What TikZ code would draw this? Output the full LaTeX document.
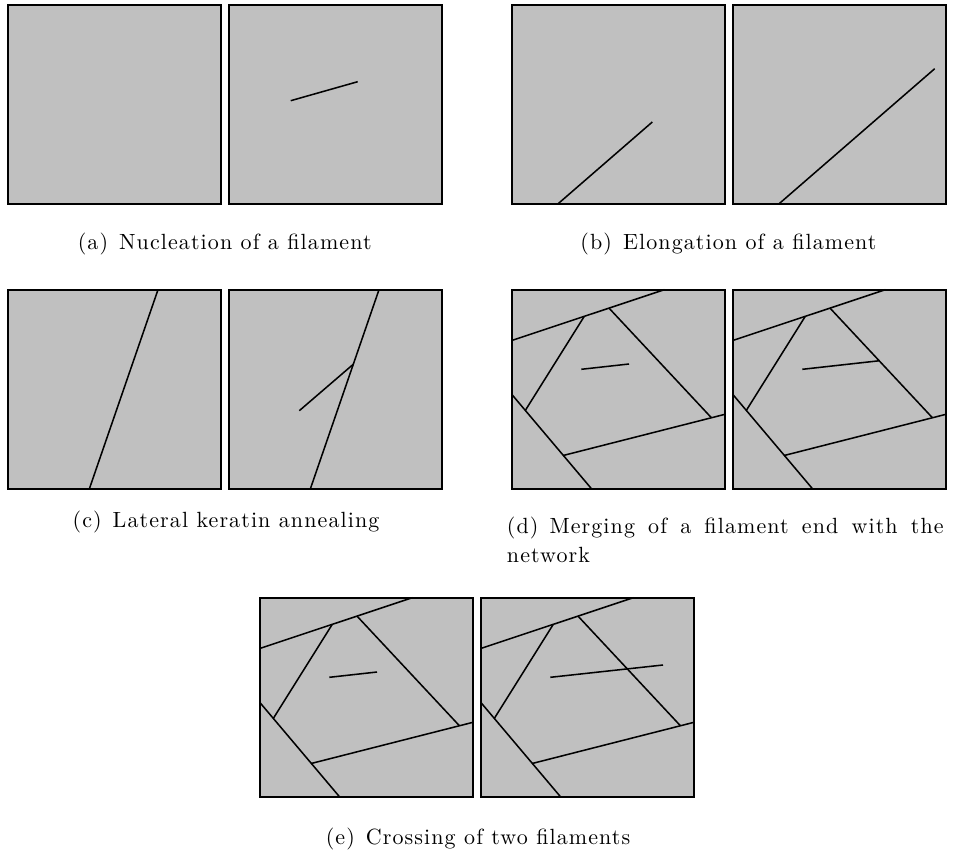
\documentclass[tikz,border=0pt]{standalone}
\usepackage{fontspec}
\setmainfont{lmroman10-regular.otf}[LetterSpace=5]
\usetikzlibrary{calc}
\definecolor{panelgray}{RGB}{192,192,192}
\newcommand\drawnet{%
  \coordinate (t1) at (0,50.6); \coordinate (t2) at (152,0);
  \coordinate (l1) at (72,26.6); \coordinate (l2) at (13.7,119.6);
  \coordinate (ll1) at (0,105.3); \coordinate (ll2) at (79.4,199.3);
  \coordinate (r1) at (96.7,18.4); \coordinate (r2) at (198.4,127.3);
  \coordinate (b1) at (52.7,165.3); \coordinate (b2) at (212.7,124.6);
  \coordinate (lend) at (intersection of l1--l2 and ll1--ll2);
  \coordinate (bstart) at (intersection of b1--b2 and ll1--ll2);
  \coordinate (rend) at (intersection of r1--r2 and b1--b2);
  \draw[fil] (t1) -- (t2);
  \draw[fil] (l1) -- (lend);
  \draw[fil] (r1) -- (rend);
  \draw[fil] (ll1) -- (ll2);
  \draw[fil] (bstart) -- (b2);
  \coordinate (s1) at (69,79.6); \coordinate (s2) at (116.7,74.3);
}
\begin{document}
\begin{tikzpicture}[x=0.75pt,y=-0.75pt,
  panel/.style={draw=black,line width=1.4pt,fill=panelgray},
  fil/.style={line width=1.15pt},
  captext/.style={anchor=base,inner sep=0pt,font=\fontsize{16.5}{22}\selectfont}]
\useasboundingbox (0,0) rectangle (954,850);
% (a)
\begin{scope}[shift={(8.3,4.7)}]
  \draw[panel] (0,0) rectangle (212.7,199.3);
\end{scope}
\begin{scope}[shift={(229.3,4.7)}]
  \draw[panel] (0,0) rectangle (212.7,199.3);
  \coordinate (a1) at (61.4,96); \coordinate (a2) at (128.4,77);
  \draw[fil] (a1) -- (a2);
\end{scope}
\node[captext] (capa) at (224.7,249.5) {(a)\enspace Nucleation of a filament};
% (b)
\begin{scope}[shift={(512.3,4.7)}]
  \draw[panel] (0,0) rectangle (212.7,199.3);
  \coordinate (bb1) at (45.5,199.3); \coordinate (bb2) at (140,117.3);
  \draw[fil] (bb1) -- (bb2);
\end{scope}
\begin{scope}[shift={(733.3,4.7)}]
  \draw[panel] (0,0) rectangle (212.7,199.3);
  \coordinate (bc1) at (45.5,199.3); \coordinate (bc2) at (201.4,64);
  \draw[fil] (bc1) -- (bc2);
\end{scope}
\node[captext] (capb) at (728.5,249.5) {(b)\enspace Elongation of a filament};
% (c)
\begin{scope}[shift={(8.3,289.7)}]
  \draw[panel] (0,0) rectangle (212.7,199.3);
  \coordinate (c1) at (81,199.3); \coordinate (c2) at (149.7,0);
  \draw[fil] (c1) -- (c2);
\end{scope}
\begin{scope}[shift={(229.3,289.7)}]
  \draw[panel] (0,0) rectangle (212.7,199.3);
  \coordinate (cc1) at (81,199.3); \coordinate (cc2) at (149.7,0);
  \coordinate (cb1) at (70,121); \coordinate (cb2) at ($(cc1)!0.626!(cc2)$);
  \draw[fil] (cc1) -- (cc2);
  \draw[fil] (cb1) -- (cb2);
\end{scope}
\node[captext] (capc) at (226,527.5) {(c)\enspace Lateral keratin annealing};
% (d)
\begin{scope}[shift={(512.3,289.7)}]
  \draw[panel] (0,0) rectangle (212.7,199.3);
  \drawnet
  \draw[fil] (s1) -- (s2);
\end{scope}
\begin{scope}[shift={(733.3,289.7)}]
  \draw[panel] (0,0) rectangle (212.7,199.3);
  \drawnet
  \draw[fil] (s1) -- (intersection of s1--s2 and r1--r2);
\end{scope}
\node[captext,anchor=base west,text width=327.5pt,align=justify] (capd) at (506.7,533)
  {(d)\enspace Merging of a filament end with the\linebreak network};
% (e)
\begin{scope}[shift={(260.3,597.7)}]
  \draw[panel] (0,0) rectangle (212.7,199.3);
  \drawnet
  \draw[fil] (s1) -- (s2);
\end{scope}
\begin{scope}[shift={(481.3,597.7)}]
  \draw[panel] (0,0) rectangle (212.7,199.3);
  \drawnet
  \coordinate (e2) at (181.7,67.3);
  \draw[fil] (s1) -- (e2);
\end{scope}
\node[captext] (cape) at (478,844) {(e)\enspace Crossing of two filaments};
\end{tikzpicture}
\end{document}
